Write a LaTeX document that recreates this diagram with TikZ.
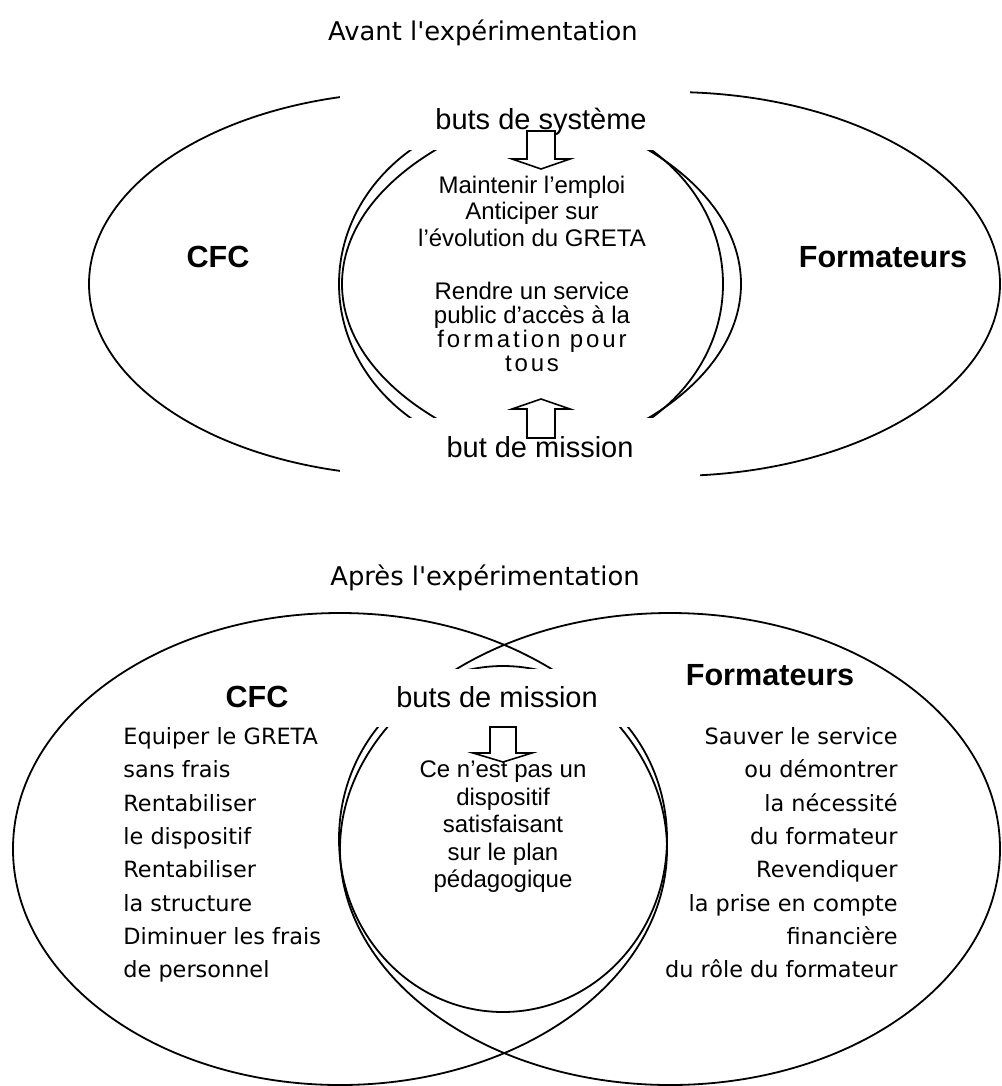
\documentclass[tikz,border=0pt]{standalone}
\usepackage{fontspec}
\setmainfont{Liberation Sans}
\newfontfamily\comicfont{DejaVu Sans}
\usetikzlibrary{positioning,shapes.geometric}

\begin{document}
\begin{tikzpicture}[x=0.5pt,y=-0.5pt]
    \tikzset{
      zone/.style={draw, ellipse, line width=0.9pt, inner sep=0pt},
      cache/.style={fill=white, inner sep=0pt},
      titre/.style={font=\comicfont\fontsize{12.9}{15}\selectfont},
      acteur/.style={font=\bfseries\fontsize{15.3}{18}\selectfont},
      but/.style={font=\fontsize{14.5}{17}\selectfont},
      liste/.style={font=\comicfont\fontsize{11.2}{16.67}\selectfont, inner sep=0pt},
      contenu/.style={align=center, inner sep=0pt},
      fleche/.style={draw, line width=0.8pt, line join=miter}
    }

    \useasboundingbox (0,0) rectangle (1001,1086);

    % avant
    \node[titre] (avant) at (483,33) {Avant l'expérimentation};

    \node[zone, minimum width=326pt, minimum height=192pt] (cfcA) at (415,284) {};
    \node[zone, minimum width=329pt, minimum height=192pt] (formA) at (671,284) {};
    \node[zone, minimum width=192pt, minimum height=172pt] (centreA) at (531,284) {};

    \node[cache, minimum width=175pt, minimum height=31pt] (hautA) at (515,119) {};
    \node[cache, minimum width=180pt, minimum height=30pt] (basA) at (520,448) {};

    \node[acteur] (cfcA-txt) at (218,257) {CFC};
    \node[acteur] (formA-txt) at (883,257) {Formateurs};

    \node[but] (systeme) at (541,122) {buts de système};
    \node[but] (mission) at (540,447) {but de mission};

    \node[contenu, font=\fontsize{12}{13.25}\selectfont] (emploi) at (532,211)
      {Maintenir l’emploi\\Anticiper sur\\l’évolution du GRETA};
    \node[contenu, font=\fontsize{12}{12}\selectfont] (service) at (532,327)
      {Rendre un service\\public d’accès à la\\{\addfontfeature{LetterSpace=12}formation pour}\\{\addfontfeature{LetterSpace=12}tous}};

    \draw[fleche] (527,131) -- (555,131) -- (555,159) -- (570,159) -- (541,169)
      -- (512,159) -- (527,159) -- cycle;
    \draw[fleche] (527,438) -- (555,438) -- (555,409) -- (570,409) -- (541,399)
      -- (512,409) -- (527,409) -- cycle;

    % apres
    \node[titre] (apres) at (485,578) {Après l'expérimentation};

    \node[zone, minimum width=327pt, minimum height=236pt] (cfcB) at (340,849) {};
    \node[zone, minimum width=330pt, minimum height=236pt] (formB) at (670,849) {};
    \node[zone, minimum width=164pt, minimum height=173pt] (centreB) at (503,839) {};

    \node[cache, minimum width=145pt, minimum height=29pt] (hautB) at (505,698) {};

    \node[acteur] (cfcB-txt) at (257,697) {CFC};
    \node[acteur] (formB-txt) at (770,675) {Formateurs};
    \node[but] (missions) at (497,697) {buts de mission};

    \node[liste, anchor=north west, align=left] (listeCFC) at (123,727)
      {Equiper le GRETA\\sans frais\\Rentabiliser\\le dispositif\\Rentabiliser\\la structure\\Diminuer les frais\\de personnel};
    \node[liste, anchor=north east, align=right] (listeForm) at (898,727)
      {Sauver le service\\ou démontrer\\la nécessité\\du formateur\\Revendiquer\\la prise en compte\\financière\\du rôle du formateur};

    \node[contenu, font=\fontsize{12}{13.75}\selectfont] (dispositif) at (503,827)
      {Ce n’est pas un\\dispositif\\satisfaisant\\sur le plan\\pédagogique};

    \draw[fleche] (490,727) -- (516,727) -- (516,753) -- (532,753) -- (503,762)
      -- (473,753) -- (490,753) -- cycle;

\end{tikzpicture}
\end{document}
